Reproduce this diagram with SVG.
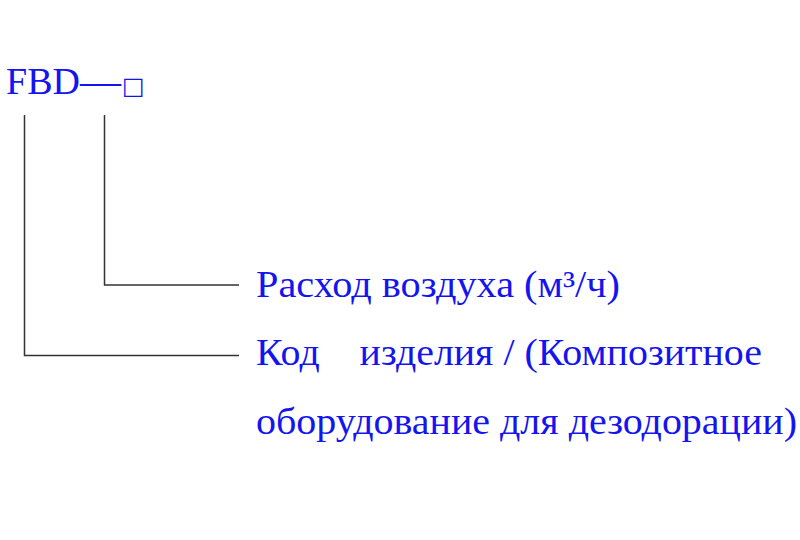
<svg xmlns="http://www.w3.org/2000/svg" width="800" height="540" viewBox="0 0 800 540">
<style>
.t{font-family:"Liberation Serif","Times New Roman",serif;fill:#1414f0;font-size:37px}
.l{stroke:#333;stroke-width:1.5;fill:none}
</style>
<rect width="800" height="540" fill="#fff"/>
<g id="title"><text class="t" x="6" y="94" style="font-size:38px">FBD<tspan style="font-size:41px">—</tspan><tspan x="122" style="font-family:'DejaVu Sans',sans-serif;font-size:24px">□</tspan></text></g>
<g id="connectors">
<polyline class="l" points="24.5,115 24.5,355.5 239,355.5"/>
<polyline class="l" points="104.5,115 104.5,285 239,285"/>
</g>
<g id="label-flow"><text class="t" x="256" y="297" textLength="364" lengthAdjust="spacingAndGlyphs">Расход воздуха (м³/ч)</text></g>
<g id="label-code"><text class="t" x="256" y="365" xml:space="preserve" textLength="506" lengthAdjust="spacingAndGlyphs">Код    изделия / (Композитное</text>
<text class="t" x="256" y="434" textLength="541" lengthAdjust="spacingAndGlyphs">оборудование для дезодорации)</text></g>
</svg>
